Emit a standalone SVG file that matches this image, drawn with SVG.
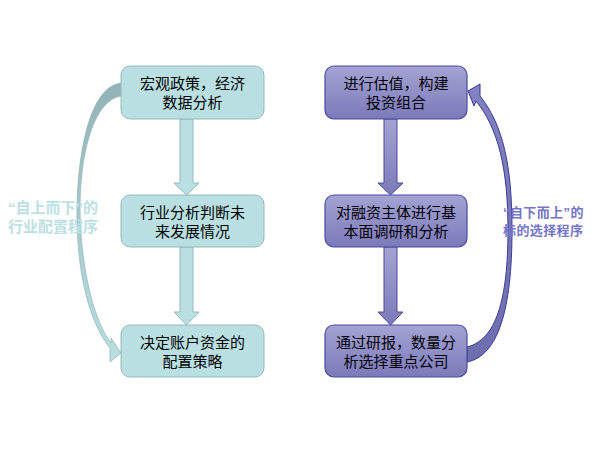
<svg xmlns="http://www.w3.org/2000/svg" width="599" height="449" viewBox="0 0 599 449">
<defs>
<linearGradient id="pg" x1="0" y1="0" x2="0" y2="1"><stop offset="0" stop-color="#a4a3d3"/><stop offset="1" stop-color="#7b7ab9"/></linearGradient>
<linearGradient id="lc" x1="0" y1="0" x2="0" y2="1"><stop offset="0" stop-color="#93b2b5"/><stop offset="0.45" stop-color="#a6c8cb"/><stop offset="1" stop-color="#b9dfe3"/></linearGradient>
<linearGradient id="rc" x1="0" y1="0" x2="0" y2="1"><stop offset="0" stop-color="#8282c2"/><stop offset="1" stop-color="#6e6eae"/></linearGradient>
<style>
.lb{fill:#b9dfe3;stroke:#93babe;stroke-width:1}
.rb{fill:url(#pg);stroke:#4a4a9f;stroke-width:1.2}
.la{fill:#b9dfe3;stroke:#93babe;stroke-width:1}
.ra{fill:url(#pg);stroke:#4a4a9f;stroke-width:1}
.t{font-family:"Noto Sans CJK SC","Noto Sans",sans-serif;font-size:15px;fill:#000;text-anchor:middle}
.ll{font-family:"Noto Sans CJK SC","Noto Sans",sans-serif;font-size:15px;font-weight:bold;fill:#bde0e4}
.rl{font-family:"Noto Sans CJK SC","Noto Sans",sans-serif;font-size:13px;font-weight:bold;fill:#7474c9;letter-spacing:0.4px}
.q{font-family:"Liberation Sans",sans-serif}
</style>
</defs>
<g id="connectors">
<path class="la" d="M180,119 L193,119 L193,183 L199,183 L186.5,195 L174,183 L180,183 Z"/>
<path class="la" d="M180,247 L193,247 L193,312 L199,312 L186.5,325 L174,312 L180,312 Z"/>
<path class="ra" d="M384,119 L397,119 L397,183 L403,183 L390.5,195 L378,183 L384,183 Z"/>
<path class="ra" d="M384,247 L397,247 L397,312 L403,312 L390.5,325 L378,312 L384,312 Z"/>
<path fill="url(#lc)" stroke="#93babe" stroke-width="0.8" d="M121,83 C93,86 79,140 77,205 C76,262 86,318 110,348 L110,362 L121,353 L111,338 L111,343 C92,318 80,262 80,205 C81,145 96,100 121,96 Z"/>
<path fill="url(#rc)" stroke="#3a3a95" stroke-width="1" d="M467,362 C498,356 512,310 512,230 C512,165 503,125 480,96 L480,84 L468,91 L474,106 L476,101 C498,128 508,168 508,230 C508,300 496,340 467,347 Z"/>
</g>
<g id="n1"><rect class="lb" x="121" y="66" width="143" height="53" rx="9"/><text class="t" x="192.5" y="89">宏观政策，经济</text><text class="t" x="192.5" y="108">数据分析</text></g>
<g id="n2"><rect class="lb" x="121" y="195" width="143" height="52" rx="9"/><text class="t" x="192.5" y="218">行业分析判断未</text><text class="t" x="192.5" y="237">来发展情况</text></g>
<g id="n3"><rect class="lb" x="121" y="325" width="143" height="52" rx="9"/><text class="t" x="192.5" y="348">决定账户资金的</text><text class="t" x="192.5" y="367">配置策略</text></g>
<g id="n4"><rect class="rb" x="325" y="66" width="142" height="53" rx="9"/><text class="t" x="396" y="89">进行估值，构建</text><text class="t" x="396" y="108">投资组合</text></g>
<g id="n5"><rect class="rb" x="325" y="195" width="142" height="52" rx="9"/><text class="t" x="396" y="218">对融资主体进行基</text><text class="t" x="396" y="237">本面调研和分析</text></g>
<g id="n6"><rect class="rb" x="325" y="325" width="142" height="52" rx="9"/><text class="t" x="396" y="348">通过研报，数量分</text><text class="t" x="396" y="367">析选择重点公司</text></g>
<g id="label-left"><text class="ll" x="8" y="213"><tspan class="q">“</tspan>自上而下<tspan class="q">”</tspan>的</text><text class="ll" x="8" y="232">行业配置程序</text></g>
<g id="label-right"><text class="rl" x="503" y="217"><tspan class="q">“</tspan>自下而上<tspan class="q">”</tspan>的</text><text class="rl" x="503" y="235">标的选择程序</text></g>
</svg>
